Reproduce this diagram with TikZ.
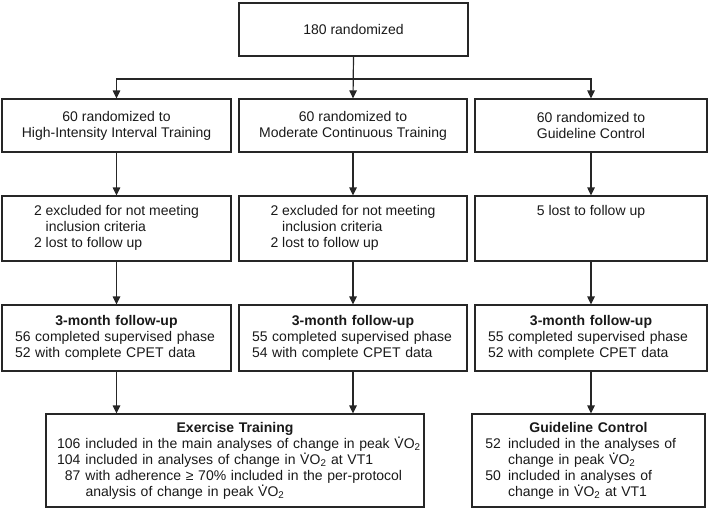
\documentclass[tikz,border=0pt]{standalone}
\usepackage{fontspec}
\setmainfont{Liberation Sans}
\usetikzlibrary{arrows.meta}
\newcommand\Vdot{\ooalign{V\cr\hidewidth\smash{\raisebox{.72em}{.}}\hidewidth\cr}}
\newcommand\VOt{\Vdot O\smash{\textsubscript{2}}}
\newcommand\enum[1]{\makebox[23.5pt][r]{#1}\hspace{5pt}}
\newcommand\eind{\hspace*{28.5pt}}
\newcommand\gnum[1]{\makebox[16pt][r]{#1}\hspace{7pt}}
\newcommand\gind{\hspace*{23pt}}
\newcommand\ttl[1]{\makebox[\linewidth]{\bfseries #1}}
\begin{document}
\begin{tikzpicture}[x=1pt,y=-1pt,
  font=\fontsize{14}{16}\selectfont,
  box/.style={draw=black!85, line width=1.2pt, rectangle, inner sep=0pt, align=center, text=black!90},
  lbox/.style={box, align=left, inner xsep=#1},
  arr/.style={draw=black!85, line width=1.2pt, -{Triangle[length=8pt,width=7.5pt]}}]
\useasboundingbox (0,0) rectangle (709,509);

% top
\node[box, minimum width=229pt, minimum height=53pt] (top) at (353.5,29.5) {180 randomized};

% row 2
\node[box, minimum width=229pt, minimum height=53pt] (b1) at (116.5,125.5) {60 randomized to\\High-Intensity Interval Training};
\node[box, minimum width=228pt, minimum height=53pt] (b2) at (353,125.5) {60 randomized to\\Moderate Continuous Training};
\node[box, minimum width=232pt, minimum height=53pt] (b3) at (591,125.5) {60 randomized to\\Guideline Control};

% row 3
\node[box, minimum width=229pt, minimum height=65pt] (c1) at (116.5,228.5) {\begin{tabular}{@{}l@{}}2 excluded for not meeting\\\phantom{2 }inclusion criteria\\2 lost to follow up\end{tabular}};
\node[box, minimum width=228pt, minimum height=65pt] (c2) at (353,228.5) {\begin{tabular}{@{}l@{}}2 excluded for not meeting\\\phantom{2 }inclusion criteria\\2 lost to follow up\end{tabular}};
\node[box, minimum width=232pt, minimum height=65pt] (c3) at (591,228.5) {5 lost to follow up\\\strut\\\strut};

% row 4
\node[lbox=13pt, text width=203pt, minimum height=66pt] (d1) at (116.5,338) {\ttl{3-month follow-up}\\56 completed supervised phase\\52 with complete CPET data};
\node[lbox=13pt, text width=202pt, minimum height=66pt] (d2) at (353,338) {\ttl{3-month follow-up}\\55 completed supervised phase\\54 with complete CPET data};
\node[lbox=13pt, text width=206pt, minimum height=66pt] (d3) at (591,338) {\ttl{3-month follow-up}\\55 completed supervised phase\\52 with complete CPET data};

% row 5
\node[lbox=11pt, text width=356pt, minimum height=93pt] (ex) at (235,460.5) {\ttl{Exercise Training}\\
\mbox{\enum{106}included in the main analyses of change in peak \VOt}\\
\mbox{\enum{104}included in analyses of change in \VOt{} at VT1}\\
\mbox{\enum{87}with adherence ≥ 70\% included in the per-protocol}\\
\mbox{\eind analysis of change in peak \VOt}};
\node[lbox=13pt, text width=207pt, minimum height=93pt] (gc) at (588.5,460.5) {\ttl{Guideline Control}\\
\mbox{\gnum{52}included in the analyses of}\\
\mbox{\gind change in peak \VOt}\\
\mbox{\gnum{50}included in analyses of}\\
\mbox{\gind change in \VOt{} at VT1}};

% connectors
\coordinate (split) at (353.5,79);
\draw[arr] (top.south) -- (b2.north);
\draw[arr] (split) -| (b1.north);
\draw[arr] (split) -| (b3.north);
\draw[arr] (b1.south) -- (c1.north);
\draw[arr] (b2.south) -- (c2.north);
\draw[arr] (b3.south) -- (c3.north);
\draw[arr] (c1.south) -- (d1.north);
\draw[arr] (c2.south) -- (d2.north);
\draw[arr] (c3.south) -- (d3.north);
\draw[arr] (d1.south) -- (d1.south |- ex.north);
\draw[arr] (d2.south) -- (d2.south |- ex.north);
\draw[arr] (d3.south) -- (d3.south |- gc.north);
\end{tikzpicture}
\end{document}
